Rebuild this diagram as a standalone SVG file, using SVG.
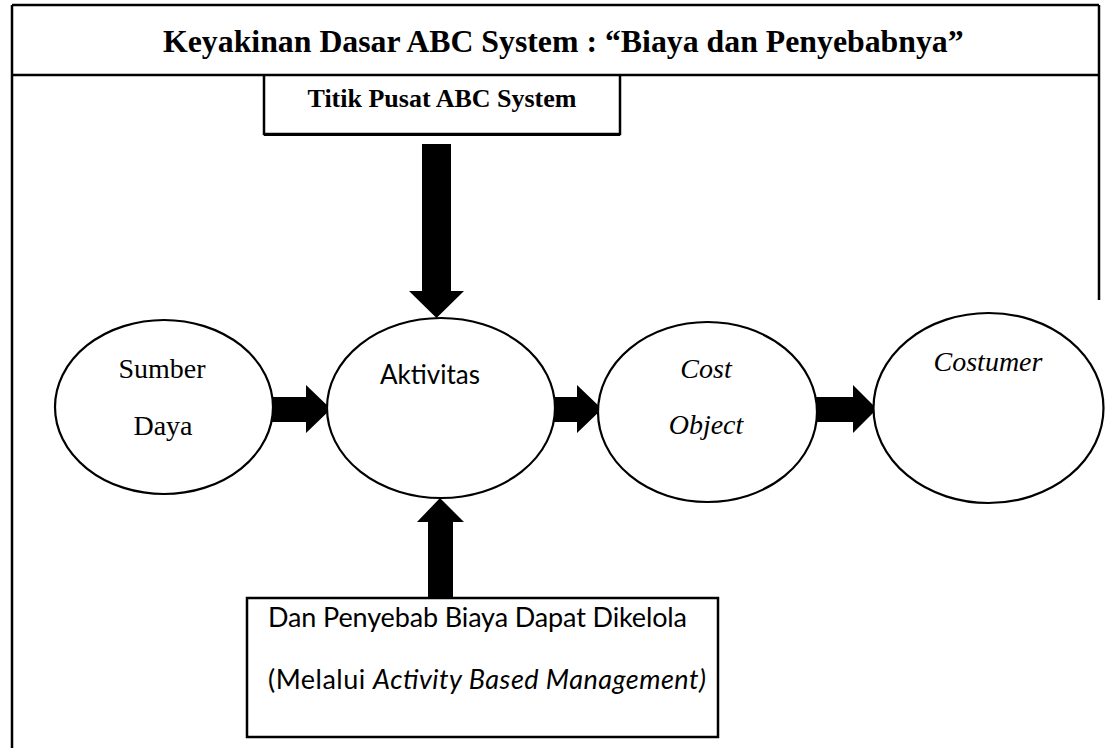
<svg xmlns="http://www.w3.org/2000/svg" width="1105" height="748" viewBox="0 0 1105 748">
<style>
.frame{stroke:#000;stroke-width:2.5;fill:none}
.box{stroke:#000;stroke-width:2.5;fill:#fff}
.ell{stroke:#000;stroke-width:2.2;fill:#fff}
.arr{fill:#000;stroke:none}
.serif{font-family:"Liberation Serif","Times New Roman",serif;fill:#000}
.sans{font-family:Lato,"Open Sans","Liberation Sans",sans-serif;fill:#000}
</style>
<rect width="1105" height="748" fill="#fff"/>
<g id="frame">
<line class="frame" x1="12" y1="5" x2="12" y2="748"/>
<line class="frame" x1="12" y1="5" x2="1099" y2="5"/>
<line class="frame" x1="1099" y1="5" x2="1099" y2="300"/>
<line class="frame" x1="12" y1="75" x2="1099" y2="75"/>
<text class="serif" x="163" y="52" font-size="31.8" font-weight="bold">Keyakinan Dasar ABC System : “Biaya dan Penyebabnya”</text>
</g>
<g id="node-titik">
<path class="frame" d="M264 75 V134 H620 V75"/>
<line x1="264" y1="134.5" x2="620" y2="134.5" stroke="#000" stroke-width="3"/>
<text class="serif" x="442" y="107" font-size="26" font-weight="bold" text-anchor="middle">Titik Pusat ABC System</text>
</g>
<g id="connectors">
<polygon class="arr" points="422,144 451,144 451,291 464,291 436.5,318 409,291 422,291"/>
<polygon class="arr" points="272,397 306,397 306,385 331,409 306,433 306,422 272,422"/>
<polygon class="arr" points="550,397 577,397 577,385 602,409 577,433 577,422 550,422"/>
<polygon class="arr" points="812,397 853,397 853,385 877,409 853,433 853,422 812,422"/>
<polygon class="arr" points="428,598 453,598 453,522 464,522 440,498 417,522 428,522"/>
</g>
<g id="node-sumber">
<ellipse class="ell" cx="164" cy="407" rx="109" ry="87"/>
<text class="serif" x="162" y="378" font-size="28" text-anchor="middle">Sumber</text>
<text class="serif" x="163" y="435" font-size="28" text-anchor="middle">Daya</text>
</g>
<g id="node-aktivitas">
<ellipse class="ell" cx="441" cy="408" rx="114" ry="90"/>
<text class="sans" x="380" y="384" font-size="26">Aktivitas</text>
</g>
<g id="node-cost">
<ellipse class="ell" cx="707.5" cy="412" rx="109.5" ry="90"/>
<text class="serif" x="706" y="378" font-size="28" font-style="italic" text-anchor="middle">Cost</text>
<text class="serif" x="706" y="434" font-size="28" font-style="italic" text-anchor="middle">Object</text>
</g>
<g id="node-costumer">
<ellipse class="ell" cx="988.5" cy="408" rx="115" ry="95"/>
<text class="serif" x="988" y="371" font-size="28" font-style="italic" text-anchor="middle">Costumer</text>
</g>
<g id="node-kelola">
<rect class="box" x="247" y="598" width="471" height="139"/>
<text class="sans" x="268" y="627" font-size="27" textLength="419" lengthAdjust="spacing">Dan Penyebab Biaya Dapat Dikelola</text>
<text class="sans" x="268" y="689" font-size="27" textLength="438" lengthAdjust="spacing">(Melalui <tspan font-style="italic">Activity Based Management)</tspan></text>
</g>
</svg>
